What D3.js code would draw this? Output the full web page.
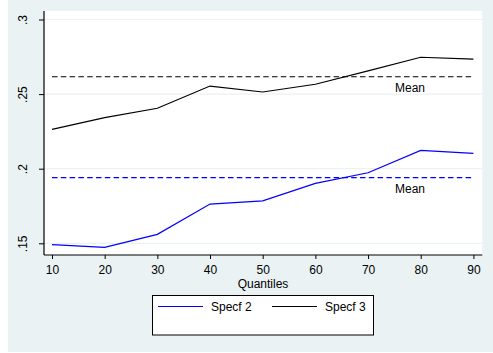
<!DOCTYPE html>
<html>
<head>
<meta charset="utf-8">
<script src="https://cdn.jsdelivr.net/npm/d3@7"></script>
<style>
  html, body { margin: 0; padding: 0; background: #ffffff; }
  svg { display: block; }
  text { font-family: "Liberation Sans", Arial, sans-serif; fill: #000; }
</style>
</head>
<body>
<svg id="chart" width="493" height="353"></svg>
<script>
// Quantile points and the two specifications' estimates
const quantiles = [10, 20, 30, 40, 50, 60, 70, 80, 90];
const specf2 = [0.1491, 0.1473, 0.1560, 0.1763, 0.1784, 0.1902, 0.1973, 0.2123, 0.2103];
const specf3 = [0.2264, 0.2342, 0.2405, 0.2554, 0.2514, 0.2566, 0.2656, 0.2747, 0.2735];
const meanSpecf2 = 0.1940;
const meanSpecf3 = 0.2616;
const yTicks = [0.15, 0.2, 0.25, 0.3];
const yTickLabels = [".15", ".2", ".25", ".3"];
const xTicks = [10, 20, 30, 40, 50, 60, 70, 80, 90];
const seriesNames = ["Specf 2", "Specf 3"];
const seriesColors = ["#0000ff", "#000000"];

const svg = d3.select("#chart");
const W = 493;
const FS = 12;

// outer graph region
svg.append("rect").attr("x", 8).attr("y", 0).attr("width", W - 8).attr("height", 352)
  .attr("fill", "#eaf2f3");

// plot region
const plot = { left: 44, right: 482.3, top: 11, bottom: 255 };
svg.append("rect").attr("x", plot.left).attr("y", plot.top)
  .attr("width", plot.right - plot.left).attr("height", plot.bottom - plot.top)
  .attr("fill", "#ffffff");

const x = d3.scaleLinear().domain([10, 90]).range([52, 473.4]);
const y = d3.scaleLinear().domain([0.15, 0.3]).range([243.3, 19.5]);

// horizontal grid lines
svg.append("g").selectAll("line").data(yTicks).join("line")
  .attr("x1", plot.left).attr("x2", plot.right)
  .attr("y1", d => y(d)).attr("y2", d => y(d))
  .attr("stroke", "#eaf2f3").attr("stroke-width", 1.2);

// y axis
const yAxis = d3.axisLeft(y).tickValues(yTicks)
  .tickFormat((d, i) => yTickLabels[i]).tickSize(5).tickPadding(3);
const gy = svg.append("g").attr("transform", `translate(${plot.left},0)`).call(yAxis);
gy.select(".domain").attr("d", `M0,${plot.top}V${plot.bottom}`).attr("stroke", "#000").attr("stroke-width", 1.2);
gy.selectAll(".tick line").attr("stroke", "#000");
gy.selectAll(".tick text")
  .attr("font-size", FS)
  .attr("x", 0).attr("y", 0).attr("dy", null)
  .attr("text-anchor", "middle")
  .attr("transform", "translate(-20,0) rotate(-90)")
  .attr("dominant-baseline", "middle")
  .style("font-family", "'Liberation Sans', Arial, sans-serif");

// x axis
const xAxis = d3.axisBottom(x).tickValues(xTicks).tickSize(4);
const gx = svg.append("g").attr("transform", `translate(0,${plot.bottom})`).call(xAxis);
gx.select(".domain").attr("d", `M${plot.left},0H${plot.right}`).attr("stroke", "#000").attr("stroke-width", 1.2);
gx.selectAll(".tick line").attr("stroke", "#000");
gx.selectAll(".tick text").attr("font-size", FS)
  .attr("y", 19).attr("dy", null)
  .style("font-family", "'Liberation Sans', Arial, sans-serif");

svg.append("text").attr("x", 263).attr("y", 287.8).attr("text-anchor", "middle")
  .attr("font-size", FS).text("Quantiles");

// mean reference lines
[[meanSpecf3, "#000000"], [meanSpecf2, "#0000ff"]].forEach(([m, c]) => {
  svg.append("line")
    .attr("x1", x(10)).attr("x2", x(90))
    .attr("y1", y(m)).attr("y2", y(m))
    .attr("stroke", c).attr("stroke-width", 1.1)
    .attr("stroke-dasharray", "5.5,3.3");
  svg.append("text").attr("x", 410).attr("y", y(m) + 15.5)
    .attr("text-anchor", "middle").attr("font-size", FS).text("Mean");
});

// series lines
const line = d3.line().x((d, i) => x(quantiles[i])).y(d => y(d));
[specf2, specf3].forEach((s, k) => {
  svg.append("path").datum(s).attr("d", line)
    .attr("fill", "none").attr("stroke", seriesColors[k]).attr("stroke-width", 1.2);
});

// legend
const lg = svg.append("g");
lg.append("rect").attr("x", 152.5).attr("y", 295.5).attr("width", 221).attr("height", 39.5)
  .attr("fill", "#ffffff").attr("stroke", "#000").attr("stroke-width", 1);
const legendX = [158, 272];
seriesNames.forEach((n, k) => {
  lg.append("line").attr("x1", legendX[k]).attr("x2", legendX[k] + 45)
    .attr("y1", 306.5).attr("y2", 306.5)
    .attr("stroke", seriesColors[k]).attr("stroke-width", 1.2);
  lg.append("text").attr("x", legendX[k] + 53).attr("y", 310.5)
    .attr("font-size", FS).text(n);
});
</script>
</body>
</html>
